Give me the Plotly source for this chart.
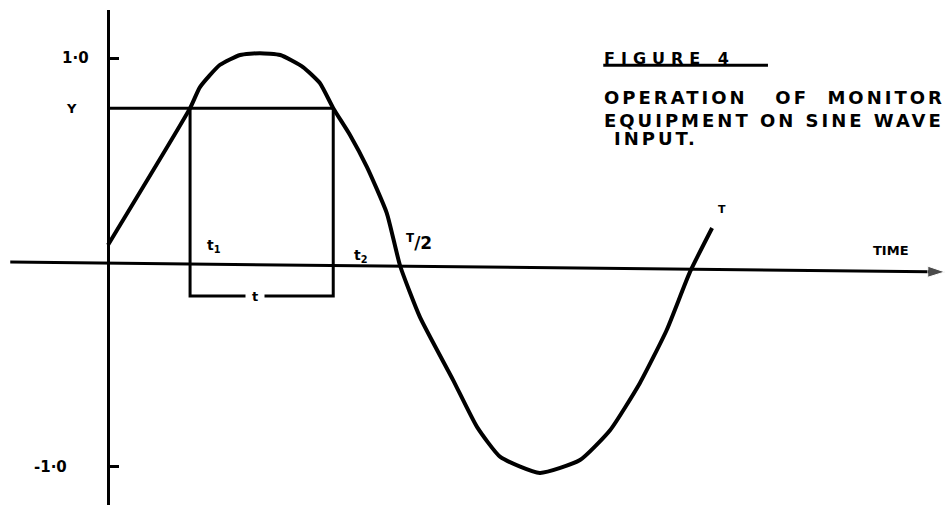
import plotly.graph_objects as go

# curve: time in units of T, value in units of peak
wave_t = [0.0, 0.141, 0.158, 0.192, 0.227, 0.261, 0.296, 0.335, 0.364, 0.387,
          0.416, 0.445, 0.479, 0.502, 0.536, 0.593, 0.634, 0.674, 0.742,
          0.811, 0.863, 0.914, 0.960, 1.000, 1.038]
wave_v = [0.086, 0.755, 0.858, 0.966, 1.015, 1.024, 1.015, 0.956, 0.878, 0.755,
          0.623, 0.467, 0.242, -0.017, -0.267, -0.575, -0.804, -0.951, -1.029,
          -0.966, -0.819, -0.589, -0.330, -0.046, 0.169]

# monitor threshold and the crossing times
level_y = 0.755
t1 = 0.141
t2 = 0.387
bracket_v = -0.164

# time axis (drawn slightly askew, as in the sketch)
time_axis_t = [-0.168, 1.438]
time_axis_v = [0.002, -0.046]

y_ticks = [1.0, -1.0]
y_tick_text = ["1·0", "-1·0"]

ink = "black"
hand = "DejaVu Sans, Liberation Sans, Arial"

fig = go.Figure()

# time axis with arrow head
fig.add_trace(go.Scatter(x=time_axis_t, y=time_axis_v, mode="lines+markers",
                         line=dict(color=ink, width=3),
                         marker=dict(symbol="arrow", size=[0, 18], color=ink,
                                     angleref="previous")))

# threshold Y and the t1..t2 window
fig.add_trace(go.Scatter(x=[0, t2], y=[level_y, level_y], mode="lines",
                         line=dict(color=ink, width=3)))
fig.add_trace(go.Scatter(x=[t1, t1, t2, t2], y=[level_y, bracket_v, bracket_v, level_y],
                         mode="lines", line=dict(color=ink, width=3)))

# the sine wave itself
fig.add_trace(go.Scatter(x=wave_t, y=wave_v, mode="lines",
                         line=dict(color=ink, width=4, shape="spline", smoothing=0.5)))


def label(txt, x, y, size=14, xanchor="center", bg=None, pad=0):
    fig.add_annotation(x=x, y=y, text=txt, showarrow=False, xanchor=xanchor,
                       align="left" if xanchor == "left" else "center",
                       font=dict(family=hand, size=size, color=ink, weight="bold"),
                       bgcolor=bg, borderpad=pad)


label(y_tick_text[0], -0.031, y_ticks[0], size=15, xanchor="right")
label(y_tick_text[1], -0.069, y_ticks[1], size=15, xanchor="right")
label("Y", -0.062, level_y, size=13)
label("t<sub>1</sub>", 0.182, 0.08, size=14)
label("t<sub>2</sub>", 0.435, 0.03, size=14)
label("<sup>T</sup>/2", 0.535, 0.10, size=17)
label("T", 1.055, 0.257, size=11)
label("TIME", 1.345, 0.061, size=13)
label("t", t1 + (t2 - t1) * 0.45, bracket_v, size=13, bg="white", pad=6)

label("FIGURE 4", 0.851, 1.0, size=16, xanchor="left")
label("OPERATION   OF  MONITOR", 0.851, 0.809, size=18, xanchor="left")
label("EQUIPMENT ON SINE WAVE", 0.851, 0.697, size=18, xanchor="left")
label("INPUT.", 0.868, 0.605, size=18, xanchor="left")

# underline of the figure heading
fig.add_shape(type="line", x0=0.851, x1=1.134, y0=0.965, y1=0.965,
              line=dict(color=ink, width=3))

fig.update_layout(
    width=951, height=507,
    margin=dict(l=0, r=0, t=10, b=2, autoexpand=False),
    paper_bgcolor="white", plot_bgcolor="white",
    showlegend=False,
    xaxis=dict(range=[-0.1856, 1.4485], visible=False),
    yaxis=dict(range=[-1.186, 1.235], anchor="free", position=108 / 951,
               showline=True, linecolor=ink, linewidth=3,
               ticks="inside", ticklen=9, tickwidth=3, tickcolor=ink,
               tickvals=y_ticks, showticklabels=False,
               showgrid=False, zeroline=False),
)

# drop the page margin, and space out the stencil lettering like the sketch
page_js = """
document.body.style.margin = '0';
var gd = document.getElementById('{plot_id}');
var wide = {'FIGURE 4': '6px', 'OPERATION   OF  MONITOR': '3px',
            'EQUIPMENT ON SINE WAVE': '3px', 'INPUT.': '3px'};
gd.querySelectorAll('text.annotation-text').forEach(function (t) {
    var k = t.textContent;
    if (wide[k]) { t.style.letterSpacing = wide[k]; }
});
"""

fig.write_html("out.html", post_script=page_js, config={"displayModeBar": False})
